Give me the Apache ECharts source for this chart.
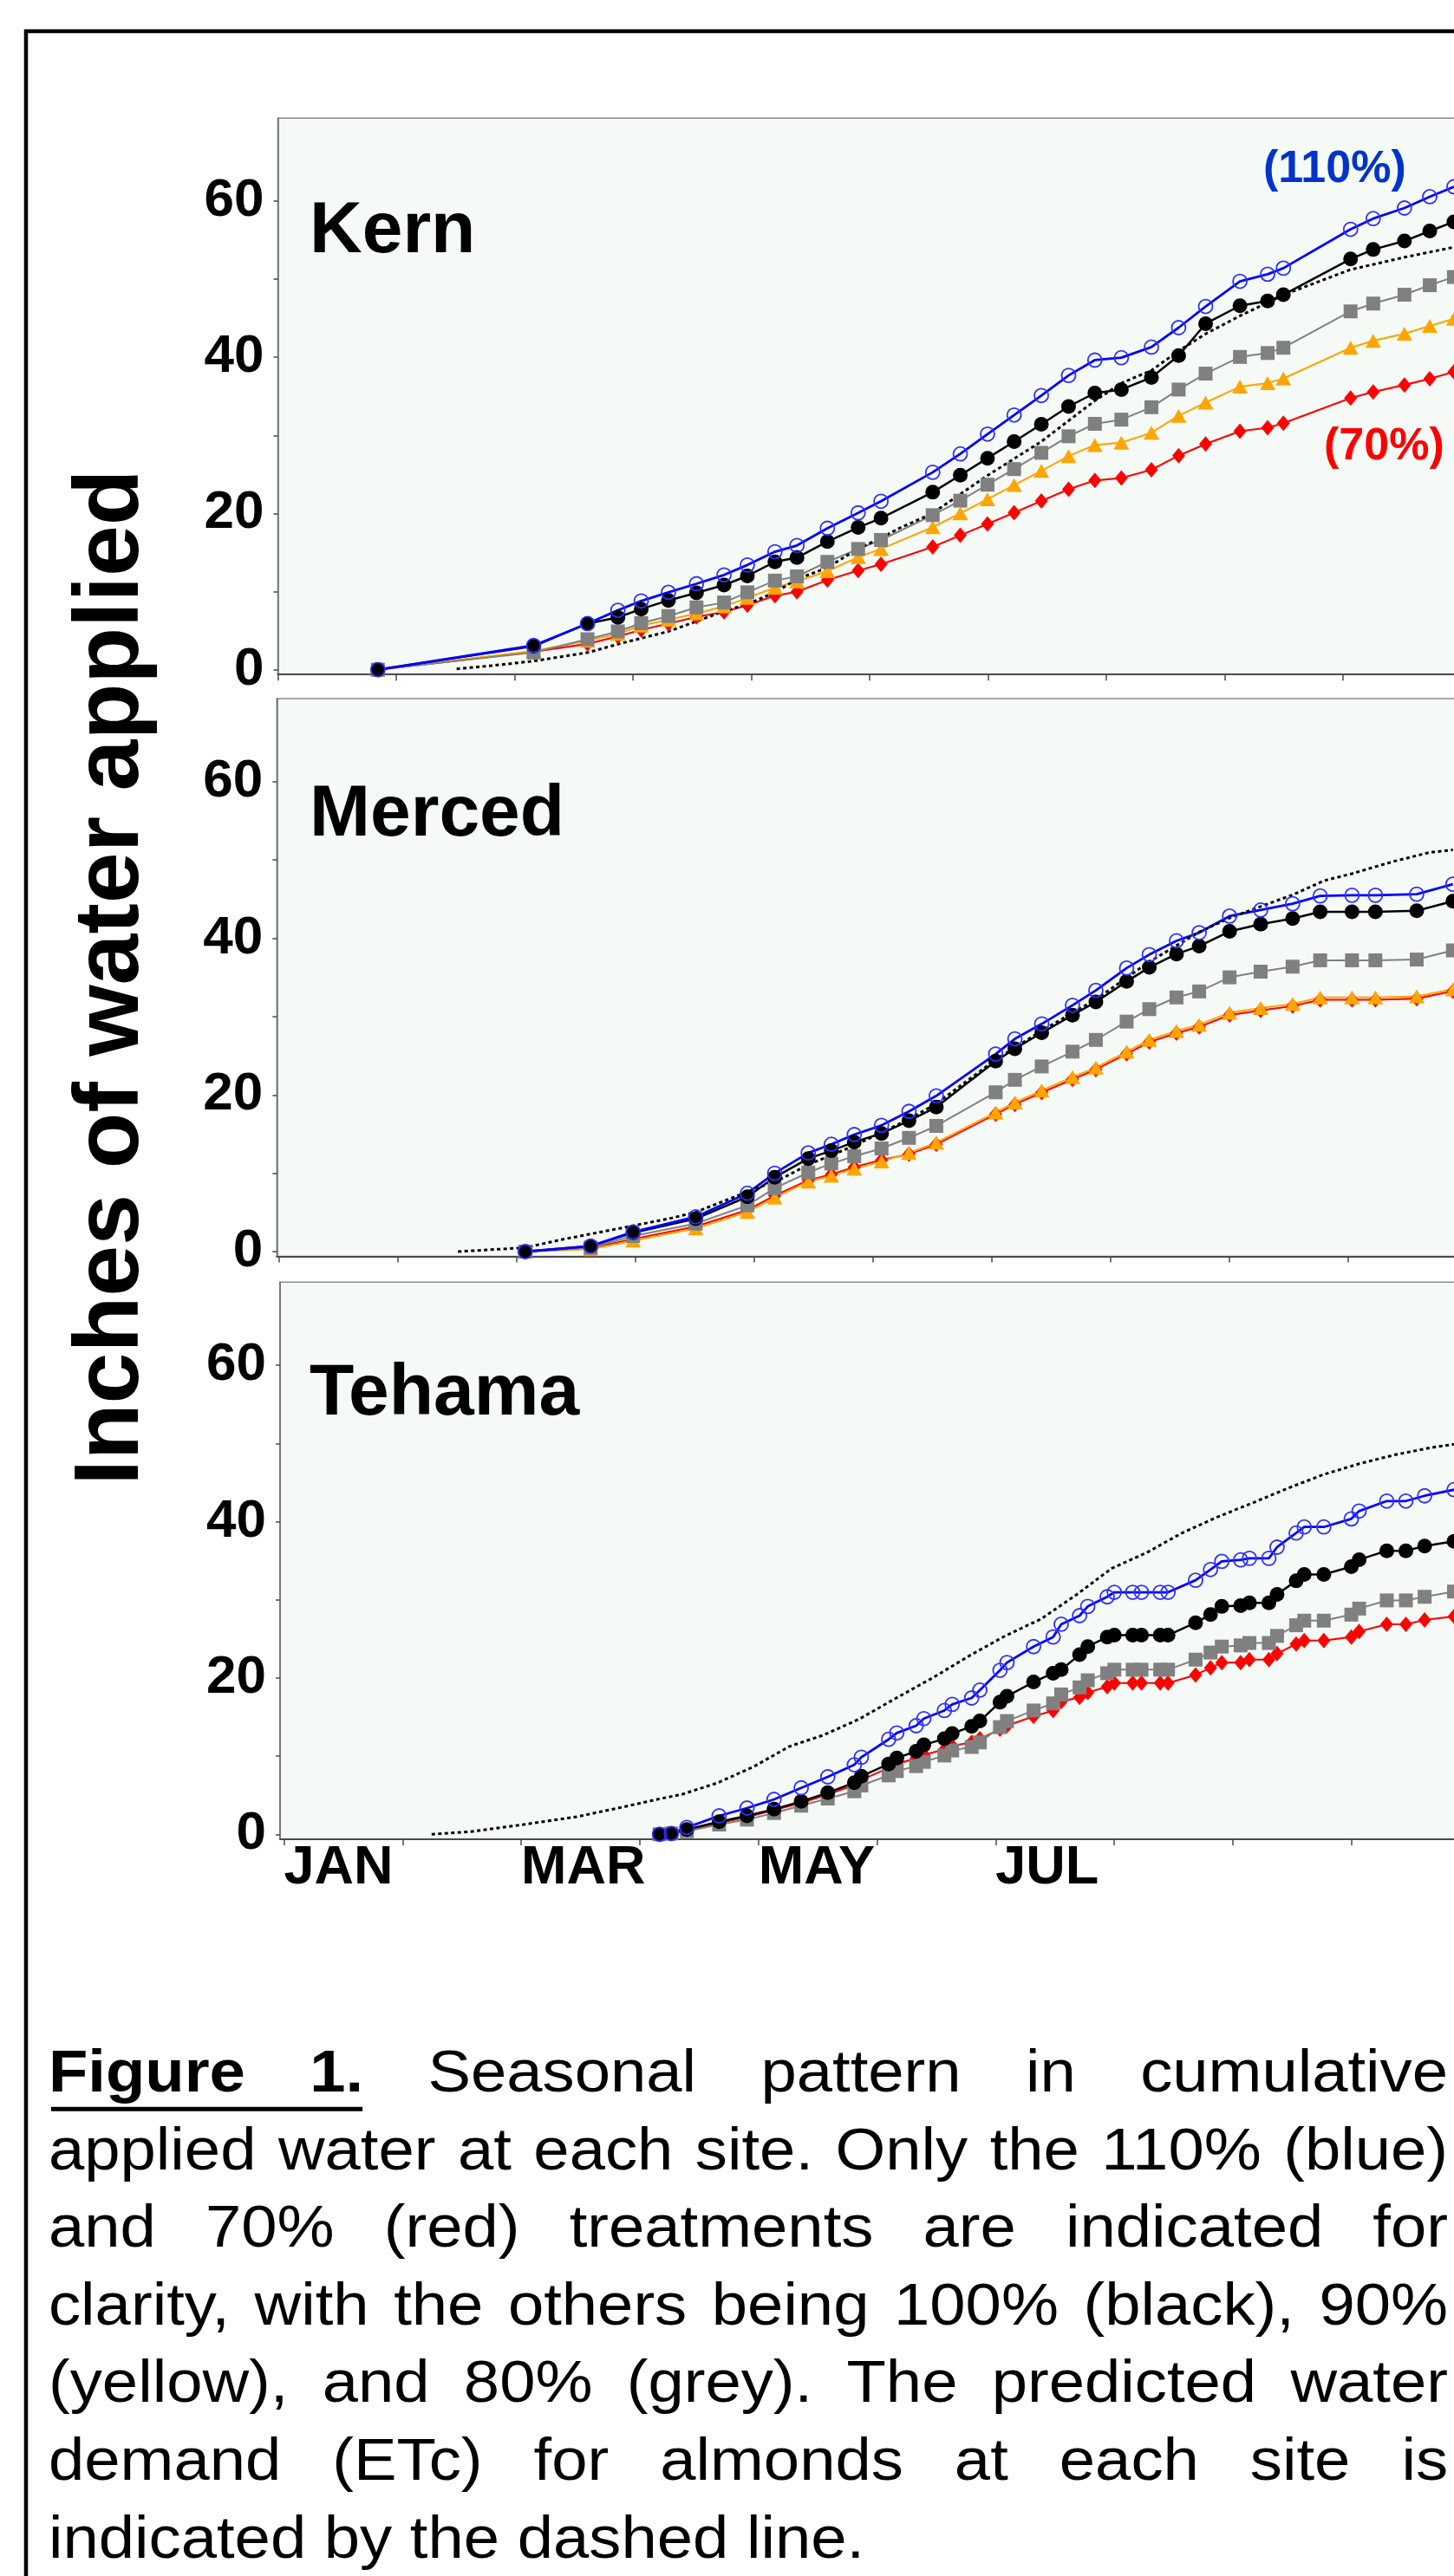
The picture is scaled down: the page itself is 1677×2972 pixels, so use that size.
<!DOCTYPE html>
<html>
<head>
<meta charset="utf-8">
<title>Seasonal pattern in cumulative applied water</title>
<script src="https://cdn.jsdelivr.net/npm/echarts@6/dist/echarts.min.js"></script>
<style>
  html, body { margin: 0; padding: 0; background: #ffffff; }
  #chart { width: 1677px; height: 2972px; }
</style>
</head>
<body>
<div id="chart"></div>
<script>
// ---- Axis values -------------------------------------------------------
// x is measured in months: 0 = 1 January, 1 = 1 February, ...
const monthTicks = [0, 1, 2, 3, 4, 5, 6, 7, 8, 9, 10, 11, 12];
const monthLabelValues = [0, 2, 4, 6];
const monthLabels = ['JAN', 'MAR', 'MAY', 'JUL'];
const yTickValues = [0, 10, 20, 30, 40, 50, 60];
const yLabelValues = [0, 20, 40, 60];

// ---- Kern --------------------------------------------------------------
const kernDates = [0.845, 2.161, 2.616, 2.873, 3.07, 3.30, 3.537, 3.77, 3.967, 4.2, 4.386, 4.643, 4.903, 5.096,
  5.533, 5.766, 5.996, 6.221, 6.451, 6.681, 6.903, 7.127, 7.381, 7.611, 7.839, 8.129, 8.363, 8.496,
  9.064, 9.255, 9.519, 9.733, 9.937];
const kern110 = [0, 3.1, 5.9, 7.6, 8.8, 9.9, 11.0, 12.13, 13.4, 15.1, 15.9, 18.1, 20.07, 21.56,
  25.27, 27.62, 30.16, 32.6, 35.1, 37.67, 39.63, 39.94, 41.3, 43.79, 46.5, 49.72, 50.63, 51.4,
  56.38, 57.75, 59.1, 60.55, 61.82];
const kern100 = [0, 3.0, 5.9, 6.7, 7.76, 8.87, 9.83, 10.83, 12.0, 13.8, 14.35, 16.4, 18.2, 19.4,
  22.72, 24.9, 27.07, 29.2, 31.42, 33.69, 35.41, 35.86, 37.41, 40.21, 44.29, 46.59, 47.19, 48.0,
  52.57, 53.79, 54.88, 56.16, 57.33];
const kern90 = [0, 2.4, 3.7, 4.6, 5.65, 6.4, 7.2, 8.1, 9.2, 10.5, 11.3, 12.6, 14.4, 15.45,
  18.24, 20.02, 21.83, 23.64, 25.44, 27.35, 28.75, 29.07, 30.34, 32.51, 34.19, 36.23, 36.68, 37.27,
  41.21, 42.11, 43.02, 44.02, 44.92];
const kern80 = [0, 2.2, 3.9, 4.9, 5.95, 6.87, 7.98, 8.6, 9.9, 11.4, 11.94, 13.8, 15.45, 16.6,
  19.78, 21.64, 23.68, 25.68, 27.76, 29.88, 31.47, 32.01, 33.6, 35.86, 37.9, 40.04, 40.54, 41.21,
  45.87, 46.87, 48.0, 49.22, 50.27];
const kern70 = [0, 2.3, 3.3, 4.25, 5.1, 5.9, 6.76, 7.39, 8.24, 9.46, 9.98, 11.46, 12.7, 13.5,
  15.71, 17.2, 18.65, 20.1, 21.59, 23.09, 24.22, 24.54, 25.59, 27.4, 28.9, 30.52, 30.97, 31.56,
  34.78, 35.55, 36.45, 37.23, 38.13];
const kernEtcDates = [1.51, 1.8, 2.16, 2.62, 2.87, 3.3, 3.54, 3.77, 3.97, 4.2, 4.39, 4.64, 4.9, 5.1,
  5.25, 5.53, 6.0, 6.45, 6.9, 7.13, 7.38, 7.61, 7.84, 8.13, 8.5, 9.06, 9.52, 9.94];
const kernEtc = [0.1, 0.5, 1.1, 2.2, 3.25, 4.9, 6.2, 7.5, 8.4, 9.9, 11.6, 13.05, 15.45, 16.9,
  18.1, 20.0, 24.9, 29.2, 34.4, 36.7, 38.3, 40.8, 43.0, 45.3, 48.0, 51.2, 52.8, 54.1];

// ---- Merced ------------------------------------------------------------
const mercedDates = [2.072, 2.623, 2.981, 3.508, 3.943, 4.173, 4.456, 4.650, 4.843, 5.073, 5.304,
  5.534, 6.034, 6.196, 6.422, 6.681, 6.878, 7.137, 7.328, 7.557, 7.748, 8.004, 8.266, 8.535, 8.767,
  9.035, 9.232, 9.58, 9.885];
const merced110 = [0, 0.7, 2.5, 4.43, 7.45, 10.0, 12.6, 13.7, 14.94, 16.12, 17.9,
  19.89, 25.22, 27.16, 29.07, 31.45, 33.35, 36.2, 37.92, 39.68, 40.72, 42.84, 43.61, 44.42, 45.41,
  45.5, 45.5, 45.64, 46.91];
const merced100 = [0, 0.7, 2.4, 4.2, 7.0, 9.48, 11.88, 12.88, 13.98, 15.09, 16.7,
  18.45, 24.32, 25.9, 27.94, 30.19, 31.87, 34.49, 36.29, 38.0, 39.0, 40.89, 41.8, 42.52, 43.39,
  43.39, 43.39, 43.52, 44.74];
const merced90 = [0, 0.3, 1.4, 2.95, 5.05, 6.9, 8.93, 9.67, 10.6, 11.5, 12.58,
  13.92, 17.76, 19.04, 20.56, 22.28, 23.5, 25.53, 27.03, 28.16, 28.98, 30.5, 31.09, 31.63, 32.45,
  32.45, 32.45, 32.58, 33.49];
const merced80 = [0, 0.5, 2.0, 3.58, 5.9, 8.1, 10.1, 11.25, 12.17, 13.17, 14.52,
  16.05, 20.34, 21.93, 23.64, 25.53, 27.03, 29.37, 30.96, 32.45, 33.22, 35.02, 35.75, 36.38, 37.19,
  37.19, 37.19, 37.29, 38.46];
const merced70 = [0, 0.4, 1.6, 3.2, 5.3, 7.15, 9.1, 9.85, 10.8, 11.7, 12.45,
  13.7, 17.55, 18.8, 20.3, 22.0, 23.25, 25.25, 26.75, 27.9, 28.7, 30.2, 30.8, 31.35, 32.15,
  32.15, 32.15, 32.3, 33.25];
const mercedEtcDates = [1.506, 2.07, 2.385, 2.98, 3.31, 3.51, 3.94, 4.23, 4.456, 4.84, 5.305, 5.534,
  6.034, 6.422, 6.878, 7.328, 7.748, 8.004, 8.266, 8.535, 8.8, 9.035, 9.39, 9.69, 9.885];
const mercedEtc = [0, 0.5, 1.55, 3.3, 4.3, 5.05, 7.6, 9.3, 11.1, 13.5, 16.9, 18.9,
  24.5, 28.2, 32.2, 37.0, 40.8, 42.6, 44.06, 45.55, 47.36, 48.26, 49.84, 50.97, 51.29];

// ---- Tehama ------------------------------------------------------------
const tehamaDates = [3.167, 3.266, 3.397, 3.669, 3.904, 4.132, 4.361, 4.585, 4.809, 4.868, 5.098, 5.167,
  5.330, 5.395, 5.568, 5.634, 5.798, 5.867, 6.037, 6.096, 6.320, 6.485, 6.553, 6.708, 6.777, 6.941,
  7.001, 7.156, 7.230, 7.388, 7.454, 7.686, 7.812, 7.907, 8.066, 8.140, 8.304, 8.373, 8.534, 8.602,
  8.767, 8.999, 9.065, 9.298, 9.459, 9.617, 9.865];
const tehama110 = [0, 0.1, 0.88, 2.36, 3.36, 4.47, 5.94, 7.35, 8.9, 9.86, 12.15, 12.97,
  13.89, 14.8, 15.84, 16.62, 17.44, 18.44, 20.98, 21.97, 24.01, 25.24, 26.87, 27.97, 29.15, 30.38,
  30.96, 30.96, 30.96, 30.96, 30.96, 32.5, 33.87, 34.91, 35.1, 35.3, 35.3, 36.73, 38.54, 39.31,
  39.31, 40.35, 41.35, 42.63, 42.63, 43.3, 44.08];
const tehama100 = [0, 0.1, 0.62, 1.62, 2.36, 3.21, 4.21, 5.32, 6.61, 7.43, 9.0, 9.76,
  10.62, 11.44, 12.22, 12.89, 13.8, 14.49, 16.9, 17.66, 19.48, 20.61, 21.06, 22.97, 24.01, 25.24,
  25.47, 25.47, 25.47, 25.47, 25.47, 27.06, 28.1, 29.15, 29.24, 29.6, 29.6, 30.69, 32.42, 33.23,
  33.23, 34.23, 35.13, 36.27, 36.27, 36.86, 37.49];
const tehama80 = [0, 0.1, 0.4, 1.25, 1.88, 2.73, 3.66, 4.58, 5.5, 6.24, 7.54, 8.09,
  8.72, 9.27, 10.08, 10.72, 11.17, 11.76, 13.71, 14.49, 15.84, 16.75, 17.89, 18.79, 19.7, 20.61,
  21.06, 21.06, 21.06, 21.06, 21.06, 22.34, 23.25, 24.01, 24.16, 24.47, 24.47, 25.38, 26.74, 27.33,
  27.33, 28.1, 28.87, 29.92, 29.92, 30.38, 31.05];
const tehama70 = [0, 0.1, 0.5, 1.45, 2.2, 3.1, 4.0, 5.1, 6.3, 6.95, 8.5, 9.0,
  9.72, 10.18, 10.85, 11.31, 11.76, 12.22, 13.44, 13.89, 15.08, 15.84, 16.98, 17.53, 18.12, 18.89,
  19.35, 19.35, 19.35, 19.35, 19.35, 20.39, 21.3, 21.97, 21.97, 22.34, 22.34, 23.11, 24.34, 24.79,
  24.79, 25.24, 25.96, 26.87, 26.87, 27.42, 27.87];
const tehamaEtcDates = [1.245, 1.57, 2.02, 2.47, 2.91, 3.18, 3.36, 3.66, 3.96, 4.26, 4.55, 4.85, 5.15,
  5.485, 5.783, 6.081, 6.38, 6.678, 6.977, 7.275, 7.573, 7.871, 8.17, 8.469, 8.767, 9.065, 9.363,
  9.662, 9.865];
const tehamaEtc = [0, 0.33, 1.25, 2.25, 3.66, 4.58, 5.13, 6.61, 8.65, 11.23, 12.7, 14.74, 17.33,
  20.15, 22.88, 25.38, 27.52, 30.6, 34.0, 36.04, 38.55, 40.59, 42.41, 44.3, 46.03, 47.4, 48.53,
  49.44, 49.89];

// ---- Caption -----------------------------------------------------------
const captionLines = [
  'Figure 1. Seasonal pattern in cumulative',
  'applied water at each site. Only the 110% (blue)',
  'and 70% (red) treatments are indicated for',
  'clarity, with the others being 100% (black), 90%',
  '(yellow), and 80% (grey). The predicted water',
  'demand (ETc) for almonds at each site is',
  'indicated by the dashed line.'
];

// ---- Layout & styling --------------------------------------------------
const FONT = '"Liberation Sans", Arial, Helvetica, sans-serif';
const Y_MIN = -0.62, Y_MAX = 70.62, X_MAX = 12;

const panels = [
  { site: 'Kern', left: 320.5, top: 136.2, height: 642, pxPerMonth: 136.5, xMin: 0, xLabels: false,
    titleY: 297 },
  { site: 'Merced', left: 319.3, top: 805.9, height: 643.7, pxPerMonth: 136.95, xMin: -0.0197, xLabels: false,
    titleY: 970 },
  { site: 'Tehama', left: 323, top: 1479.3, height: 642.6, pxPerMonth: 136.8, xMin: -0.0329, xLabels: true,
    titleY: 1638.5 }
];

const treatmentStyle = {
  t110: { line: '#0000ff', width: 2.8, symbol: 'circle', size: 16, fill: 'rgba(0,0,0,0)', border: '#2f2fff', borderWidth: 1.8 },
  t100: { line: '#000000', width: 2.5, symbol: 'circle', size: 17, fill: '#000000' },
  t90:  { line: '#ffa500', width: 2.1, symbol: 'triangle', size: [18, 16], fill: '#ffa500' },
  t80:  { line: '#808080', width: 2.0, symbol: 'rect', size: 16, fill: '#808080' },
  t70:  { line: '#ff0000', width: 2.1, symbol: 'diamond', size: [15, 18], fill: '#ff0000' }
};

function pairs(xs, ys) { return xs.map((x, i) => [x, ys[i]]); }

function treatmentSeries(gridIndex, key, xs, ys) {
  const s = treatmentStyle[key];
  return {
    type: 'line', xAxisIndex: gridIndex, yAxisIndex: gridIndex,
    data: pairs(xs, ys),
    symbol: s.symbol, symbolSize: s.size, showSymbol: true,
    lineStyle: { color: s.line, width: s.width },
    itemStyle: { color: s.fill, borderColor: s.border || s.fill, borderWidth: s.borderWidth || 0 },
    emphasis: { disabled: true }, silent: true, animation: false
  };
}

function etcSeries(gridIndex, xs, ys) {
  return {
    type: 'line', xAxisIndex: gridIndex, yAxisIndex: gridIndex,
    data: pairs(xs, ys), showSymbol: false, symbol: 'none',
    lineStyle: { color: '#000000', width: 3, type: [4, 3.5] },
    emphasis: { disabled: true }, silent: true, animation: false
  };
}

const grids = panels.map(p => ({
  left: p.left, top: p.top, height: p.height,
  width: (X_MAX - p.xMin) * p.pxPerMonth,
  containLabel: false, outerBoundsMode: 'none',
  show: true, backgroundColor: '#f5faf6', borderColor: '#8c8c8c', borderWidth: 1.5
}));

const xAxes = panels.map((p, i) => ({
  type: 'value', gridIndex: i, min: p.xMin, max: X_MAX,
  axisLine: { show: true, onZero: false, lineStyle: { color: '#4a4a4a', width: 2 } },
  axisTick: { show: true, length: 7, customValues: monthTicks, lineStyle: { color: '#4a4a4a', width: 1.5 } },
  axisLabel: p.xLabels ? {
    show: true, customValues: monthLabelValues, align: 'left', margin: 2,
    formatter: v => monthLabels[monthLabelValues.indexOf(Math.round(v))] || '',
    fontFamily: FONT, fontSize: 63, fontWeight: 'bold', color: '#000000'
  } : { show: false },
  splitLine: { show: false }
}));

const yAxes = panels.map((p, i) => ({
  type: 'value', gridIndex: i, min: Y_MIN, max: Y_MAX,
  axisLine: { show: true, onZero: false, lineStyle: { color: '#6a6a6a', width: 1.5 } },
  axisTick: { show: true, length: 5, customValues: yTickValues, lineStyle: { color: '#4a4a4a', width: 1.5 } },
  axisLabel: {
    show: true, customValues: yLabelValues, margin: 16,
    fontFamily: FONT, fontSize: 62, fontWeight: 'bold', color: '#000000'
  },
  splitLine: { show: false }
}));

const series = [
  // Kern
  treatmentSeries(0, 't70', kernDates, kern70),
  treatmentSeries(0, 't90', kernDates, kern90),
  treatmentSeries(0, 't80', kernDates, kern80),
  treatmentSeries(0, 't100', kernDates, kern100),
  treatmentSeries(0, 't110', kernDates, kern110),
  etcSeries(0, kernEtcDates, kernEtc),
  // Merced
  treatmentSeries(1, 't70', mercedDates, merced70),
  treatmentSeries(1, 't90', mercedDates, merced90),
  treatmentSeries(1, 't80', mercedDates, merced80),
  treatmentSeries(1, 't100', mercedDates, merced100),
  treatmentSeries(1, 't110', mercedDates, merced110),
  etcSeries(1, mercedEtcDates, mercedEtc),
  // Tehama
  treatmentSeries(2, 't70', tehamaDates, tehama70),
  treatmentSeries(2, 't80', tehamaDates, tehama80),
  treatmentSeries(2, 't100', tehamaDates, tehama100),
  treatmentSeries(2, 't110', tehamaDates, tehama110),
  etcSeries(2, tehamaEtcDates, tehamaEtc)
];

// ---- Free text: site names, treatment tags, axis title, caption --------
const MID = 0.35; // distance from baseline to the middle of capitals, in em

function textEl(str, x, baseline, size, weight, color, extra) {
  return Object.assign({
    type: 'text', x: x, y: baseline - MID * size, z: 100,
    style: {
      text: str, fill: color, font: weight + ' ' + size + 'px ' + FONT,
      align: 'left', verticalAlign: 'middle', textAlign: 'left', textVerticalAlign: 'middle'
    }
  }, extra || {});
}

const graphics = [];

// outer frame of the figure
graphics.push({
  type: 'rect', z: 100,
  shape: { x: 30, y: 36, width: 1720, height: 3000 },
  style: { fill: 'none', stroke: '#000000', lineWidth: 4.5 }
});

panels.forEach(p => graphics.push(textEl(p.site, 357, p.titleY, 84, 'bold', '#000000')));
graphics.push(textEl('(110%)', 1457, 213.5, 52, 'bold', '#0033cc'));
graphics.push(textEl('(70%)', 1527, 534, 52, 'bold', '#ff0000'));

graphics.push({
  type: 'text', x: 130, y: 1127.5, rotation: Math.PI / 2, z: 100,
  style: {
    text: 'Inches of water applied', fill: '#000000', font: 'bold 106px ' + FONT,
    align: 'center', verticalAlign: 'middle', textAlign: 'center', textVerticalAlign: 'middle'
  }
});

// justified caption, word by word
(function buildCaption() {
  const size = 69, stretch = 1.076, left = 56, right = 1670;
  const firstBaseline = 2418.2, pitch = 89.6;
  const ctx = document.createElement('canvas').getContext('2d');
  const fontOf = bold => (bold ? 'bold ' : 'normal ') + size + 'px ' + FONT;
  const measure = (t, bold) => { ctx.font = fontOf(bold); return ctx.measureText(t).width * stretch; };
  const space = measure(' ', false);

  captionLines.forEach((line, li) => {
    const words = line.split(' ');
    const bold = words.map((w, wi) => li === 0 && wi < 2);
    const widths = words.map((w, wi) => measure(w, bold[wi]));
    const total = widths.reduce((a, b) => a + b, 0);
    const last = li === captionLines.length - 1;
    const gap = last ? space : (right - left - total) / (words.length - 1);
    const baseline = firstBaseline + li * pitch;
    let x = left;
    words.forEach((w, wi) => {
      graphics.push({
        type: 'text', x: x, y: baseline - MID * size, scaleX: stretch, z: 100,
        style: {
          text: w, fill: '#000000', font: fontOf(bold[wi]),
          align: 'left', verticalAlign: 'middle', textAlign: 'left', textVerticalAlign: 'middle'
        }
      });
      if (li === 0 && wi === 1) {
        graphics.push({
          type: 'rect', z: 100,
          shape: { x: left + 3, y: baseline + 12.5, width: x + widths[wi] - left - 4, height: 5 },
          style: { fill: '#000000' }
        });
      }
      x += widths[wi] + gap;
    });
  });
})();

const chart = echarts.init(document.getElementById('chart'), null, { renderer: 'canvas' });
chart.setOption({
  backgroundColor: '#ffffff',
  animation: false,
  grid: grids,
  xAxis: xAxes,
  yAxis: yAxes,
  series: series,
  graphic: { elements: graphics }
});
</script>
</body>
</html>
